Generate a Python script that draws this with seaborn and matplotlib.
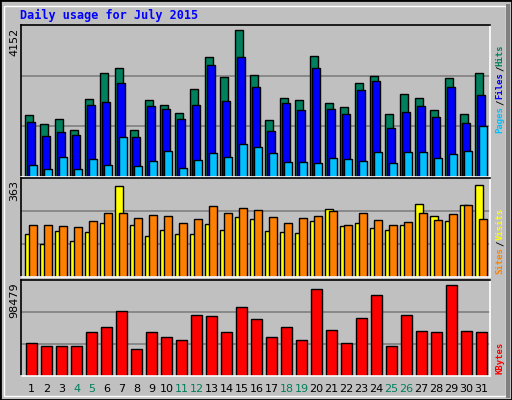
import matplotlib
matplotlib.use('Agg')
import matplotlib.pyplot as plt
import seaborn as sns
import pandas as pd
import numpy as np
from matplotlib.patches import Rectangle

days = list(range(1, 32))
weekends = [4, 5, 11, 12, 18, 19, 25, 26]
hits = [1751, 1497, 1638, 1327, 2203, 2937, 3078, 1327, 2175, 2033, 1807, 2485, 3389, 2824, 4152, 2881,
        1610, 2231, 2175, 3417, 2090, 1977, 2655, 2852, 1779, 2344, 2231, 1892, 2796, 1779, 2937]
files = [1553, 1158, 1271, 1186, 2033, 2118, 2655, 1130, 2005, 1920, 1638, 2033, 3163, 2146, 3389, 2542,
         1299, 2090, 1892, 3078, 1920, 1779, 2457, 2711, 1384, 1836, 2005, 1694, 2542, 1525, 2316]
pages = [339, 226, 565, 226, 508, 339, 1130, 311, 452, 734, 254, 480, 678, 565, 932, 847,
         678, 424, 424, 395, 537, 508, 452, 706, 395, 706, 706, 537, 650, 734, 1440]
sites = [169, 129, 181, 141, 177, 213, 359, 205, 161, 185, 169, 169, 209, 185, 236, 228,
         181, 177, 173, 220, 268, 201, 213, 193, 185, 205, 288, 240, 220, 284, 363]
visits = [205, 205, 201, 197, 220, 252, 252, 232, 244, 240, 213, 228, 280, 252, 272, 264,
          236, 213, 232, 240, 260, 205, 252, 224, 205, 217, 252, 224, 248, 284, 228]
kbytes = [35940, 32705, 32705, 32705, 47800, 53191, 70442, 29471, 47800, 42409, 39175, 66130, 65051, 47800,
          74755, 61817, 42409, 53191, 39175, 94163, 49957, 35940, 62895, 87694, 32705, 66130, 48878, 47800,
          98479, 48878, 47800]

sns.set_style('white')
plt.rcParams['font.family'] = ['DejaVu Sans']
BG = '#C0C0C0'
W, H = 512, 400
fig = plt.figure(figsize=(5.12, 4.0), dpi=100, facecolor=BG)

def px_axes(x0, y0, x1, y1):
    ax = fig.add_axes([x0 / W, 1 - y1 / H, (x1 - x0) / W, (y1 - y0) / H])
    ax.set_facecolor(BG)
    ax.set_xlim(1 + (x0 - 31) / 15, 1 + (x1 - 31) / 15)
    ax.set_xticks([]); ax.set_yticks([])
    for s in ['top', 'left']:
        ax.spines[s].set_color('black')
    for s in ['bottom', 'right']:
        ax.spines[s].set_color('white')
    for s in ax.spines.values():
        s.set_linewidth(1.2)
    return ax

def grid(ax, top):
    ax.set_ylim(0, top)
    for f in (1 / 3, 2 / 3):
        ax.axhline(top * f, color='#808080', lw=1.2, zorder=0)

d = np.array(days)
bw = 8 / 15
kw = dict(edgecolor='black', linewidth=1, zorder=2)

ax1 = px_axes(21, 25, 490, 177)
grid(ax1, 4152 * 152 / 147)
ax1.bar(d - 2 / 15, hits, bw, color='#00805C', **kw)
ax1.bar(d, files, bw, color='#0000FF', **kw)
ax1.bar(d + 2 / 15, pages, bw, color='#00C0FF', **kw)

ax2 = px_axes(21, 178, 490, 277)
grid(ax2, 363 * 99 / 91.7)
ax2.bar(d - 2 / 15, sites, bw, color='#FFFF00', **kw)
ax2.bar(d + 2 / 15, visits, bw, color='#FF8000', **kw)

ax3 = px_axes(21, 280, 490, 376)
grid(ax3, 98479 * 96 / 91.3)
df = pd.DataFrame({'day': d + 0.5 / 15, 'kb': kbytes})
sns.barplot(data=df, x='day', y='kb', native_scale=True, width=11 / 15, color='#FF0000',
            saturation=1, edgecolor='black', linewidth=1, ax=ax3, zorder=2)
ax3.set_xlim(1 + (21 - 31) / 15, 1 + (490 - 31) / 15)
ax3.set_xlabel(''); ax3.set_ylabel(''); ax3.set_xticks([]); ax3.set_yticks([])

# day labels
for day in days:
    fig.text((31.5 + 15 * (day - 1)) / W, 1 - 389 / H, str(day), ha='center', va='center',
             fontsize=8, color='#00805C' if day in weekends else 'black')

# max labels
for txt, y in [('4152', 28), ('363', 180), ('98479', 282)]:
    fig.text(14 / W, 1 - y / H, txt, rotation=90, ha='center', va='top', fontsize=8, color='black')

fig.text(20 / W, 1 - 15 / H, 'Daily usage for July 2015', ha='left', va='center',
         fontsize=8.5, fontweight='bold', family='DejaVu Sans Mono', color='#0000FF')

# right side legends
def vlegend(parts, ybottom):
    y = ybottom
    for txt, col in parts:
        fig.text(500 / W, 1 - y / H, txt, rotation=90, ha='center', va='bottom', fontsize=6.5,
                 fontweight='bold', family='DejaVu Sans Mono', color=col)
        y -= len(txt) * 5.6

vlegend([('Pages', '#00C0FF'), ('/', 'black'), ('Files', '#0000FF'), ('/', 'black'), ('Hits', '#00805C')], 133)
vlegend([('Sites', '#FF8000'), ('/', 'black'), ('Visits', '#FFFF00')], 274)
vlegend([('KBytes', '#FF0000')], 374)

# frame
fig.patches.append(Rectangle((0, 0), 1, 1, transform=fig.transFigure, fill=False, edgecolor='black', lw=2))
fig.patches.append(Rectangle((4 / W, 4 / H), 1 - 10 / W, 1 - 10 / H, transform=fig.transFigure,
                             fill=False, edgecolor='white', lw=1))
fig.patches.append(Rectangle((506 / W, 2 / H), 4 / W, 1 - 6 / H, transform=fig.transFigure,
                             facecolor='#808080', edgecolor='none'))

fig.savefig('out.png', dpi=100, facecolor=BG)
